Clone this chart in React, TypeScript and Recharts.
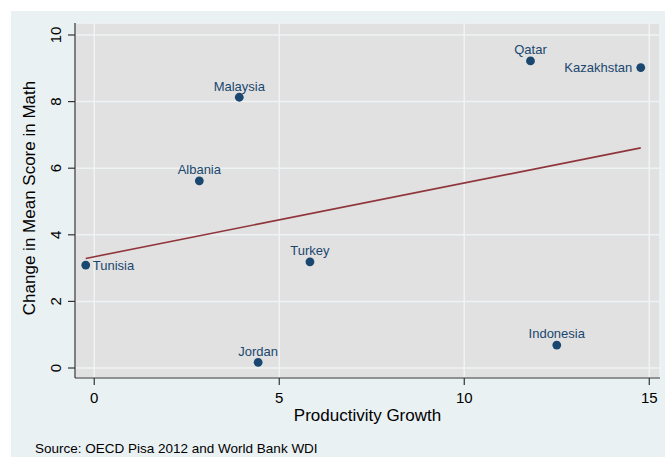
import React from 'react';
import { ScatterChart, Scatter, XAxis, YAxis, CartesianGrid, Label } from 'recharts';

const countries = ['Tunisia', 'Albania', 'Malaysia', 'Jordan', 'Turkey', 'Qatar', 'Indonesia', 'Kazakhstan'];
const productivityGrowth = [-0.23, 2.84, 3.92, 4.43, 5.83, 11.79, 12.5, 14.77];
const mathScoreChange = [3.09, 5.62, 8.13, 0.17, 3.19, 9.22, 0.69, 9.02];
const fitX = [-0.23, 14.77];
const fitY = [3.29, 6.61];
const xTicks = [0, 5, 10, 15];
const yTicks = [0, 2, 4, 6, 8, 10];

const points = countries.map((country, i) => ({ country, x: productivityGrowth[i], y: mathScoreChange[i] }));
const fitLine = fitX.map((x, i) => ({ x, y: fitY[i] }));

const NAVY = '#1a476f';
const MAROON = '#90353b';
const FONT = '"Liberation Sans", Arial, Helvetica, sans-serif';
const labelSide: Record<string, 'top' | 'right' | 'left'> = { Tunisia: 'right', Kazakhstan: 'left' };

const PointShape = (props: any) => {
  const { cx, cy, payload } = props;
  const side = labelSide[payload.country] ?? 'top';
  let label;
  if (side === 'top') {
    label = (
      <text x={cx} y={cy - 6.7} textAnchor="middle" fontSize={13} fontFamily={FONT} fill={NAVY}>
        {payload.country}
      </text>
    );
  } else if (side === 'right') {
    label = (
      <text x={cx + 7} y={cy} dy="0.36em" textAnchor="start" fontSize={13} fontFamily={FONT} fill={NAVY}>
        {payload.country}
      </text>
    );
  } else {
    label = (
      <text x={cx - 8.5} y={cy} dy="0.36em" textAnchor="end" fontSize={13} fontFamily={FONT} fill={NAVY}>
        {payload.country}
      </text>
    );
  }
  return (
    <g>
      <circle cx={cx} cy={cy} r={4.4} fill={NAVY} />
      {label}
    </g>
  );
};

const XTick = (p: any) => (
  <text x={p.x} y={p.y} dy={18} textAnchor="middle" fontSize={15} fontFamily={FONT} fill="#000">
    {p.payload.value}
  </text>
);

const YTick = (p: any) => {
  const bx = p.x - 7;
  return (
    <text x={bx} y={p.y} transform={`rotate(-90, ${bx}, ${p.y})`} textAnchor="middle" fontSize={15} fontFamily={FONT} fill="#000">
      {p.payload.value}
    </text>
  );
};

const XTitle = (p: any) => {
  const vb = p.viewBox;
  return (
    <text x={vb.x + vb.width / 2} y={421} textAnchor="middle" fontSize={17} fontFamily={FONT} fill="#000">
      Productivity Growth
    </text>
  );
};

const YTitle = (p: any) => {
  const vb = p.viewBox;
  const cy = vb.y + vb.height / 2 - 2.5;
  return (
    <text x={35} y={cy} transform={`rotate(-90, 35, ${cy})`} textAnchor="middle" fontSize={17} fontFamily={FONT} fill="#000">
      Change in Mean Score in Math
    </text>
  );
};

export default function App() {
  return (
    <div style={{ position: 'absolute', left: 0, top: 0, width: 665, height: 457, background: '#ffffff', overflow: 'hidden' }}>
      <div style={{ position: 'absolute', left: 11, top: 11, width: 654, height: 446, background: '#eaf1f3' }} />
      <div style={{ position: 'absolute', left: 0, top: 0 }}>
        <ScatterChart width={665} height={457} margin={{ top: 23, right: 5, bottom: 0, left: 0 }}>
          <CartesianGrid fill="#e1e1e1" stroke="#eef3f5" strokeWidth={1.5} />
          <XAxis
            type="number"
            dataKey="x"
            domain={[-0.52, 15.29]}
            ticks={xTicks}
            allowDataOverflow
            height={79}
            tickSize={7}
            tickMargin={0}
            axisLine={{ stroke: '#333', strokeWidth: 1.2 }}
            tickLine={{ stroke: '#333', strokeWidth: 1.2 }}
            tick={<XTick />}
          >
            <Label content={<XTitle />} />
          </XAxis>
          <YAxis
            type="number"
            dataKey="y"
            domain={[-0.3, 10.36]}
            ticks={yTicks}
            allowDataOverflow
            width={75}
            tickSize={7}
            tickMargin={0}
            axisLine={{ stroke: '#333', strokeWidth: 1.2 }}
            tickLine={{ stroke: '#333', strokeWidth: 1.2 }}
            tick={<YTick />}
          >
            <Label content={<YTitle />} />
          </YAxis>
          <Scatter
            data={fitLine}
            line={{ stroke: MAROON, strokeWidth: 1.6 }}
            shape={() => <g />}
            isAnimationActive={false}
          />
          <Scatter data={points} shape={<PointShape />} isAnimationActive={false} />
        </ScatterChart>
      </div>
      <div style={{ position: 'absolute', left: 35, top: 441, fontFamily: FONT, fontSize: 13.5, color: '#000', lineHeight: '16px', whiteSpace: 'nowrap' }}>
        Source: OECD Pisa 2012 and World Bank WDI
      </div>
    </div>
  );
}
